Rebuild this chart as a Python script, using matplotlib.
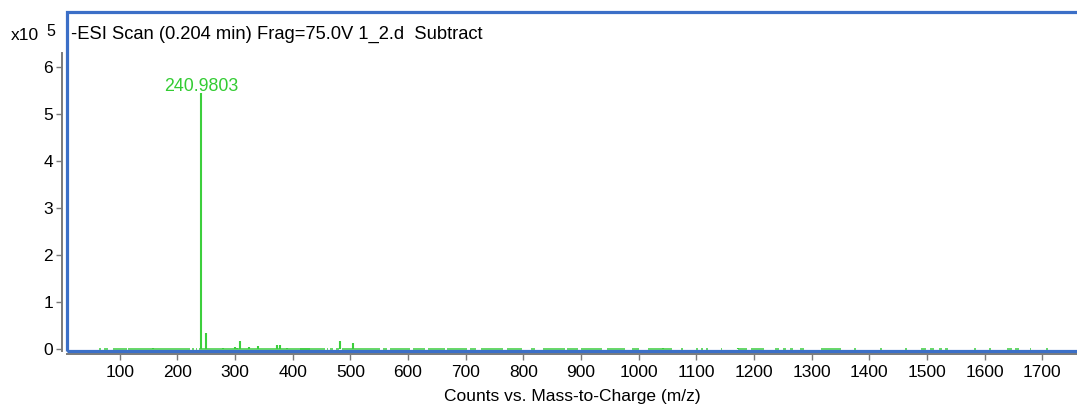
import matplotlib
matplotlib.use("Agg")
import matplotlib.pyplot as plt
from matplotlib.patches import Rectangle

plt.rcParams['font.family'] = ['Liberation Sans', 'DejaVu Sans']

# ---- data (intensity in units of 1e5 counts) ----
title_text = "-ESI Scan (0.204 min) Frag=75.0V 1_2.d  Subtract"
x_label = "Counts vs. Mass-to-Charge (m/z)"
x_ticks = [100, 200, 300, 400, 500, 600, 700, 800, 900, 1000, 1100, 1200,
           1300, 1400, 1500, 1600, 1700]
y_ticks = [0, 1, 2, 3, 4, 5, 6]
peak_label = "240.9803"
peak_label_mz = 240.9803
peak_label_int = 5.45

peak_mz = [157, 240.9803, 250, 279, 300, 304, 309, 325, 339, 372, 378, 390,
           482, 505, 1043, 1172]
peak_int = [0.03, 5.45, 0.35, 0.02, 0.04, 0.03, 0.18, 0.05, 0.07, 0.08, 0.08,
            0.03, 0.18, 0.14, 0.015, 0.025]

baseline_level = 0.006
base_start = [64, 72, 88, 114, 225, 232, 237, 412, 459, 464, 475, 485, 556,
              568, 608, 634, 667, 708, 727, 771, 814, 834, 875, 900, 945, 988,
              1016, 1073, 1099, 1108, 1117, 1143, 1172, 1194, 1237, 1250, 1262,
              1280, 1316, 1374, 1419, 1461, 1490, 1505, 1520, 1532, 1582, 1608,
              1638, 1652, 1678, 1707]
base_end = [67, 79, 112, 222, 229, 234, 430, 456, 462, 470, 480, 551, 563,
            603, 629, 664, 702, 717, 764, 798, 820, 873, 894, 936, 977, 1000,
            1057, 1076, 1102, 1111, 1120, 1145, 1187, 1218, 1244, 1256, 1268,
            1286, 1350, 1377, 1422, 1466, 1498, 1512, 1526, 1536, 1585, 1611,
            1648, 1659, 1681, 1710]

# ---- figure ----
W, H = 1077, 407
fig = plt.figure(figsize=(W / 100, H / 100), dpi=100)

ax_left, ax_top, ax_bottom = 67, 12, 351
ax = fig.add_axes([ax_left / W, 1 - ax_bottom / H, 1 - ax_left / W + 0.001,
                   (ax_bottom - ax_top) / H])

green = '#3ccf3c'
ax.vlines(peak_mz, 0, peak_int, color=green, lw=1.5)
ax.hlines([baseline_level] * len(base_start), base_start, base_end,
          color=green, lw=1.1)

ax.text(peak_label_mz, peak_label_int + 0.03, peak_label, color='#33cc33',
        ha='center', va='baseline', fontsize=12.8)

ax.set_xlim(8.5, 1762)
ax.set_ylim(-0.04, 7.17)

# gray axes (offset outward), blue frame
gray = '#7a7a7a'
for s in ['top', 'right']:
    ax.spines[s].set_visible(False)
ax.spines['left'].set_position(('outward', 3.5))
ax.spines['bottom'].set_position(('outward', 2.5))
ax.spines['left'].set_color(gray)
ax.spines['bottom'].set_color(gray)
ax.spines['left'].set_linewidth(1.4)
ax.spines['bottom'].set_linewidth(1.4)
ax.spines['left'].set_bounds(-0.04, 6.3)

frame = Rectangle((0, 0), 1.5, 1, transform=ax.transAxes, fill=False,
                  edgecolor='#3b6fc7', lw=2.3, clip_on=False, zorder=5)
ax.add_patch(frame)

ax.set_xticks(x_ticks)
ax.set_xticklabels([str(t) for t in x_ticks])
ax.set_yticks(y_ticks)
ax.set_yticklabels([str(t) for t in y_ticks])
ax.tick_params(axis='both', colors=gray, labelcolor='black', labelsize=12.5,
               length=4.5, width=1.0, direction='out')
ax.tick_params(axis='y', pad=2)
ax.tick_params(axis='x', pad=3)

ax.text(0.004, (ax_bottom - 34) / (ax_bottom - ax_top), title_text,
        transform=ax.transAxes, ha='left', va='center', fontsize=13.2,
        color='black')
ax.set_xlabel(x_label, fontsize=12.5)
ax.xaxis.set_label_coords((572 - ax_left) / (W - ax_left),
                          -(396 - ax_bottom) / (ax_bottom - ax_top))
ax.xaxis.label.set_va('center')

fig.text(11 / W, 1 - 36 / H, "x10", fontsize=12.5, ha='left', va='center')
fig.text(46 / W, 1 - 31 / H, "5", fontsize=11.5, ha='left', va='center')

fig.savefig('out.png', dpi=100)
